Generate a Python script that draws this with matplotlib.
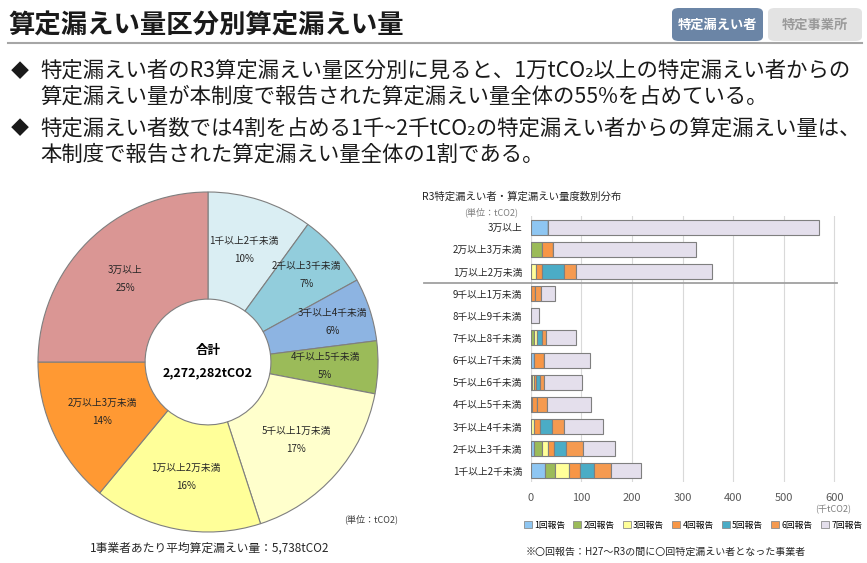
import numpy as np
import matplotlib
matplotlib.use("Agg")
import matplotlib.pyplot as plt
from matplotlib.patches import FancyBboxPatch, Patch
from matplotlib.lines import Line2D

plt.rcParams['font.family'] = ['Noto Sans CJK JP', 'DejaVu Sans']

# ---------------- data ----------------
title = "算定漏えい量区分別算定漏えい量"
bullets = [
    ["特定漏えい者のR3算定漏えい量区分別に見ると、1万tCO₂以上の特定漏えい者からの",
     "算定漏えい量が本制度で報告された算定漏えい量全体の55%を占めている。"],
    ["特定漏えい者数では4割を占める1千~2千tCO₂の特定漏えい者からの算定漏えい量は、",
     "本制度で報告された算定漏えい量全体の1割である。"],
]

pie_labels = ["1千以上2千未満", "2千以上3千未満", "3千以上4千未満", "4千以上5千未満",
              "5千以上1万未満", "1万以上2万未満", "2万以上3万未満", "3万以上"]
pie_pct = [10, 7, 6, 5, 17, 16, 14, 25]
pie_total = "2,272,282tCO2"
pie_avg = "1事業者あたり平均算定漏えい量：5,738tCO2"

bar_cats = ["3万以上", "2万以上3万未満", "1万以上2万未満", "9千以上1万未満", "8千以上9千未満",
            "7千以上8千未満", "6千以上7千未満", "5千以上6千未満", "4千以上5千未満",
            "3千以上4千未満", "2千以上3千未満", "1千以上2千未満"]
series_names = ["1回報告", "2回報告", "3回報告", "4回報告", "5回報告", "6回報告", "7回報告"]
# values in thousand tCO2, top category first
rep1 = [35, 0, 0, 0, 0, 0, 6, 0, 3, 0, 7, 29]
rep2 = [0, 23, 0, 0, 0, 7, 0, 3, 0, 0, 16, 20]
rep3 = [0, 0, 11, 0, 0, 6, 0, 4, 0, 7, 12, 26]
rep4 = [0, 21, 12, 9, 0, 0, 21, 3, 9, 11, 12, 23]
rep5 = [0, 0, 43, 0, 0, 9, 0, 9, 0, 25, 23, 28]
rep6 = [0, 0, 23, 11, 0, 8, 0, 8, 20, 22, 33, 33]
rep7 = [535, 283, 269, 29, 17, 59, 91, 75, 88, 77, 63, 58]
x_ticks = [0, 100, 200, 300, 400, 500, 600]

# ---------------- figure ----------------
W, H = 867, 563
fig = plt.figure(figsize=(W / 100, H / 100), dpi=100)
fx = lambda x: x / W
fy = lambda y: 1 - y / H

fig.text(fx(8), fy(26), title, fontsize=19, fontweight='bold', va='center', ha='left', color='#1a1a1a')
fig.add_artist(Line2D([fx(8), fx(862)], [fy(43), fy(43)], color='#A6A6A6', lw=1.5))

# buttons
for (x0, x1, fc, tc, txt) in [(672, 763, '#6B85A6', 'white', '特定漏えい者'),
                              (768, 862, '#E3E3E3', '#9A9A9A', '特定事業所')]:
    fig.add_artist(FancyBboxPatch((fx(x0), fy(41)), fx(x1) - fx(x0), fy(8) - fy(41),
                                  boxstyle="round,pad=0,rounding_size=0.008",
                                  transform=fig.transFigure, fc=fc, ec='none'))
    fig.text(fx((x0 + x1) / 2), fy(24.5), txt, fontsize=9.5, fontweight='bold', color=tc,
             ha='center', va='center')

# bullets
ys = [[72, 97], [129, 155]]
for lines, yy in zip(bullets, ys):
    fig.text(fx(11), fy(yy[0]), "◆", fontsize=13, va='center', ha='left', color='#1a1a1a')
    for ln, y in zip(lines, yy):
        fig.text(fx(40), fy(y), ln, fontsize=15.4, va='center', ha='left', color='#1a1a1a')

# ---------------- pie ----------------
cx, cy, R = 208, 362, 170
half = 175
axp = fig.add_axes([fx(cx - half), fy(cy + half), 2 * half / W, 2 * half / H])
pie_colors = ['#DAEEF3', '#92CDDC', '#8DB4E2', '#9BBB59', '#FFFFCC', '#FFFF99', '#FF9933', '#DA9694']
lim = half / R
axp.pie(pie_pct, colors=pie_colors, startangle=90, counterclock=False, radius=1,
        wedgeprops=dict(width=0.63, edgecolor='#7F7F7F', linewidth=0.8))
axp.set_xlim(-lim, lim)
axp.set_ylim(-lim, lim)
axp.set_aspect('equal')
axp.axis('off')
label_r = [0.69, 0.77, 0.77, 0.69, 0.69, 0.69, 0.69, 0.69]
cum = np.cumsum([0] + pie_pct)
for i, (lab, p) in enumerate(zip(pie_labels, pie_pct)):
    mid = (cum[i] + cum[i + 1]) / 2
    ang = np.deg2rad(90 - mid * 3.6)
    x, y = label_r[i] * np.cos(ang), label_r[i] * np.sin(ang)
    axp.text(x, y + 0.053, lab, fontsize=7, ha='center', va='center', color='#262626')
    axp.text(x, y - 0.053, f"{p}%", fontsize=7, ha='center', va='center', color='#262626')
axp.text(0, 0.07, "合計", fontsize=9, fontweight='bold', ha='center', va='center')
axp.text(0, -0.065, pie_total, fontsize=9, fontweight='bold', ha='center', va='center')

fig.text(fx(371), fy(519), "(単位：tCO2)", fontsize=6.5, ha='center', va='center', color='#404040')
fig.text(fx(210), fy(548), pie_avg, fontsize=8.5, ha='center', va='center', color='#262626')

# ---------------- stacked bar ----------------
x0px = 530.7
ppu = 0.506
xmax = 605
axb = fig.add_axes([fx(x0px), fy(482), xmax * ppu / W, (482 - 216) / H])
bar_colors = ['#8EC6F2', '#9BBB59', '#FFFF99', '#F79646', '#4BACC6', '#F59A50', '#E4DFEC']
series = [rep1, rep2, rep3, rep4, rep5, rep6, rep7]
ypos = np.arange(len(bar_cats))
left = np.zeros(len(bar_cats))
for vals, col in zip(series, bar_colors):
    v = np.array(vals, dtype=float)
    axb.barh(ypos, v, left=left, height=0.68, color=col, edgecolor='#7F7F7F', linewidth=0.8, zorder=3)
    left += v
axb.set_ylim(len(bar_cats) - 0.5, -0.5)
axb.set_xlim(0, xmax)
axb.set_xticks(x_ticks)
axb.set_xticklabels([str(t) for t in x_ticks], fontsize=8, color='#595959')
axb.set_yticks(ypos)
axb.set_yticklabels(bar_cats, fontsize=7, color='#262626')
axb.tick_params(length=0, pad=6)
axb.tick_params(axis='x', pad=8)
for s in axb.spines.values():
    s.set_visible(False)
axb.grid(axis='x', color='#D9D9D9', lw=0.8, zorder=0)
axb.axvline(0, color='#D9D9D9', lw=0.8, zorder=1)
axb.plot([(424 - x0px) / (xmax * ppu), 1.0], [2.5, 2.5], transform=axb.get_yaxis_transform(),
         color='#A0A0A0', lw=1.3, clip_on=False, zorder=4)

fig.text(fx(422), fy(197), "R3特定漏えい者・算定漏えい量度数別分布", fontsize=7.5, ha='left', va='center', color='#262626')
fig.text(fx(491), fy(212), "(単位：tCO2)", fontsize=6.5, ha='center', va='center', color='#7F7F7F')
fig.text(fx(833), fy(510), "(千tCO2)", fontsize=6.5, ha='center', va='center', color='#7F7F7F')

handles = [Patch(facecolor=c, edgecolor='#8C8C8C', linewidth=0.6) for c in bar_colors]
fig.legend(handles, series_names, loc='center', bbox_to_anchor=(fx(693), fy(525)), ncol=7,
           frameon=False, fontsize=6.3, handlelength=0.9, handleheight=0.9, handletextpad=0.3,
           columnspacing=0.9, borderpad=0, borderaxespad=0)
fig.text(fx(526), fy(552), "※〇回報告：H27～R3の間に〇回特定漏えい者となった事業者", fontsize=7.2,
         ha='left', va='center', color='#262626')

fig.savefig("out.png", dpi=100)
